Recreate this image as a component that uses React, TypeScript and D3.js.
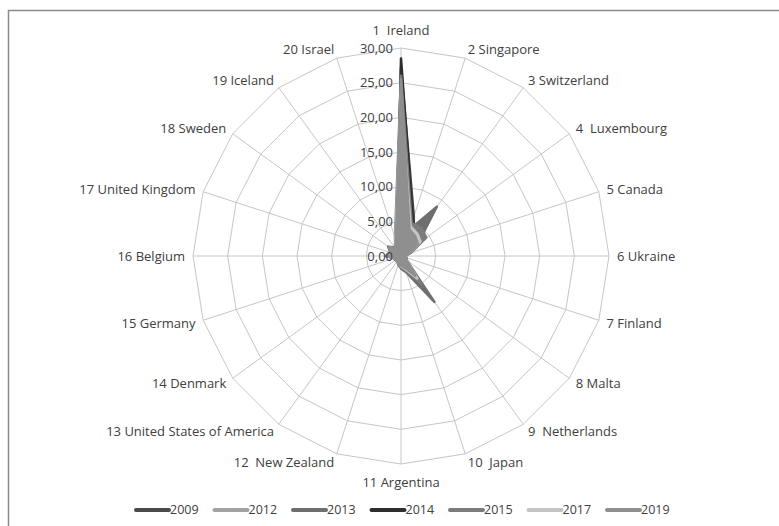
import React, { useEffect, useRef } from 'react';
import * as d3 from 'd3';

const countries = [
    "1  Ireland", "2 Singapore", "3 Switzerland", "4  Luxembourg", "5 Canada",
    "6 Ukraine", "7 Finland", "8 Malta", "9  Netherlands", "10  Japan",
    "11 Argentina", "12  New Zealand", "13 United States of America", "14 Denmark", "15 Germany",
    "16 Belgium", "17 United Kingdom", "18 Sweden", "19 Iceland", "20 Israel",
];

const years = ["2009", "2012", "2013", "2014", "2015", "2017", "2019"];

const v2009 = [27.2, 6.0, 3.0, 2.0, 1.2, 0.6, 0.8, 0.9, 3.0, 1.5, 1.2, 1.0, 0.8, 0.8, 0.9, 1.5, 1.2, 1.8, 1.2, 2.0];
const v2012 = [25.0, 4.5, 3.5, 2.5, 1.0, 0.5, 0.7, 0.8, 4.0, 2.0, 1.5, 1.2, 0.8, 0.9, 1.0, 1.8, 1.5, 2.0, 1.3, 2.5];
const v2013 = [24.0, 4.0, 8.8, 3.0, 1.2, 0.6, 0.8, 1.0, 8.2, 2.5, 1.8, 1.3, 0.9, 1.0, 1.1, 2.2, 1.6, 2.3, 1.5, 2.5];
const v2014 = [28.5, 5.5, 4.0, 2.0, 1.0, 0.5, 0.6, 0.8, 3.8, 2.0, 1.3, 1.0, 0.7, 0.7, 0.8, 1.4, 1.2, 1.6, 1.1, 1.8];
const v2015 = [26.0, 5.0, 5.0, 4.5, 1.5, 0.6, 0.8, 1.0, 5.0, 2.2, 1.6, 1.2, 0.9, 0.9, 1.0, 2.0, 1.5, 2.2, 1.4, 2.8];
const v2017 = [23.0, 4.5, 4.0, 3.5, 1.2, 0.5, 0.7, 0.9, 4.0, 2.0, 1.5, 1.1, 0.8, 0.8, 0.9, 1.8, 1.4, 2.0, 1.3, 2.6];
const v2019 = [25.5, 4.0, 3.5, 3.0, 1.3, 0.6, 0.8, 0.9, 3.5, 1.8, 1.4, 1.2, 0.8, 0.9, 1.0, 1.9, 1.5, 2.1, 1.4, 2.4];

const seriesValues = [v2009, v2012, v2013, v2014, v2015, v2017, v2019];
const seriesColors = ["#4a4a4a", "#a3a3a3", "#6e6e6e", "#2e2e2e", "#7c7c7c", "#c4c4c4", "#8f8f8f"];

const ticks = [0, 5, 10, 15, 20, 25, 30];

const App: React.FC = () => {
    const svgRef = useRef<SVGSVGElement | null>(null);

    useEffect(() => {
        if (!svgRef.current) return;
        const svg = d3.select(svgRef.current);
        svg.selectAll("*").remove();

        const width = 779;
        const height = 526;
        const cx = 401;
        const cy = 256;
        const radius = 208;
        const font = "'Open Sans', 'Liberation Sans', sans-serif";

        svg.attr("width", width).attr("height", height);

        // frame
        svg.append("rect")
            .attr("x", 8.5).attr("y", 10.5)
            .attr("width", 800).attr("height", 540)
            .attr("fill", "#fff")
            .attr("stroke", "#8a8a8a")
            .attr("stroke-width", 1.5);

        const r = d3.scaleLinear().domain([0, 30]).range([0, radius]);
        const angle = d3.scaleLinear()
            .domain([0, countries.length])
            .range([0, 2 * Math.PI]);

        const g = svg.append("g").attr("transform", `translate(${cx},${cy})`);

        // rings
        const ringLine = d3.lineRadial<number>()
            .angle((_, i) => angle(i))
            .curve(d3.curveLinearClosed);

        ticks.slice(1).forEach((t) => {
            g.append("path")
                .attr("d", ringLine.radius(() => r(t))(countries.map(() => t)))
                .attr("fill", "none")
                .attr("stroke", "#c6c6c6")
                .attr("stroke-width", 1);
        });

        // spokes
        g.selectAll("line.spoke")
            .data(countries)
            .enter()
            .append("line")
            .attr("class", "spoke")
            .attr("x1", 0).attr("y1", 0)
            .attr("x2", (_, i) => r(30) * Math.sin(angle(i)))
            .attr("y2", (_, i) => -r(30) * Math.cos(angle(i)))
            .attr("stroke", "#c6c6c6")
            .attr("stroke-width", 1);

        // series areas
        const area = d3.lineRadial<number>()
            .angle((_, i) => angle(i))
            .radius((d) => r(d))
            .curve(d3.curveLinearClosed);

        seriesValues.forEach((vals, k) => {
            g.append("path")
                .attr("d", area(vals))
                .attr("fill", seriesColors[k])
                .attr("stroke", seriesColors[k])
                .attr("stroke-width", 2.5)
                .attr("stroke-linejoin", "round");
        });

        // tick labels
        g.selectAll("text.tick")
            .data(ticks)
            .enter()
            .append("text")
            .attr("class", "tick")
            .attr("x", -8)
            .attr("y", (d) => -r(d))
            .attr("dy", "0.35em")
            .attr("text-anchor", "end")
            .attr("font-family", font)
            .attr("font-size", 13)
            .attr("fill", "#404040")
            .text((d) => d3.format(".2f")(d).replace(".", ","));

        // category labels
        g.selectAll("text.cat")
            .data(countries)
            .enter()
            .append("text")
            .attr("class", "cat")
            .attr("x", (_, i) => (r(30) + 8) * Math.sin(angle(i)))
            .attr("y", (_, i) => {
                const c = Math.cos(angle(i));
                const extra = Math.abs(Math.sin(angle(i))) < 0.01 ? 18 : 9;
                return -(r(30) + extra) * c;
            })
            .attr("dy", "0.35em")
            .attr("text-anchor", (_, i) => {
                const s = Math.sin(angle(i));
                return Math.abs(s) < 0.01 ? "middle" : s > 0 ? "start" : "end";
            })
            .attr("font-family", font)
            .attr("font-size", 13)
            .attr("fill", "#404040")
            .style("white-space", "pre")
            .text((d) => d);

        // legend
        const legend = svg.append("g").attr("transform", "translate(135,510)");
        const step = 78.5;
        years.forEach((y, k) => {
            const item = legend.append("g").attr("transform", `translate(${k * step},0)`);
            item.append("line")
                .attr("x1", 1).attr("x2", 34)
                .attr("y1", 0).attr("y2", 0)
                .attr("stroke", seriesColors[k])
                .attr("stroke-width", 4)
                .attr("stroke-linecap", "round");
            item.append("text")
                .attr("x", 35)
                .attr("y", 0)
                .attr("dy", "0.35em")
                .attr("font-family", font)
                .attr("font-size", 12.5)
                .attr("fill", "#404040")
                .text(y);
        });
    }, []);

    return <svg ref={svgRef} style={{ display: 'block', position: 'absolute', left: 0, top: 0 }}></svg>;
};

export default App;
